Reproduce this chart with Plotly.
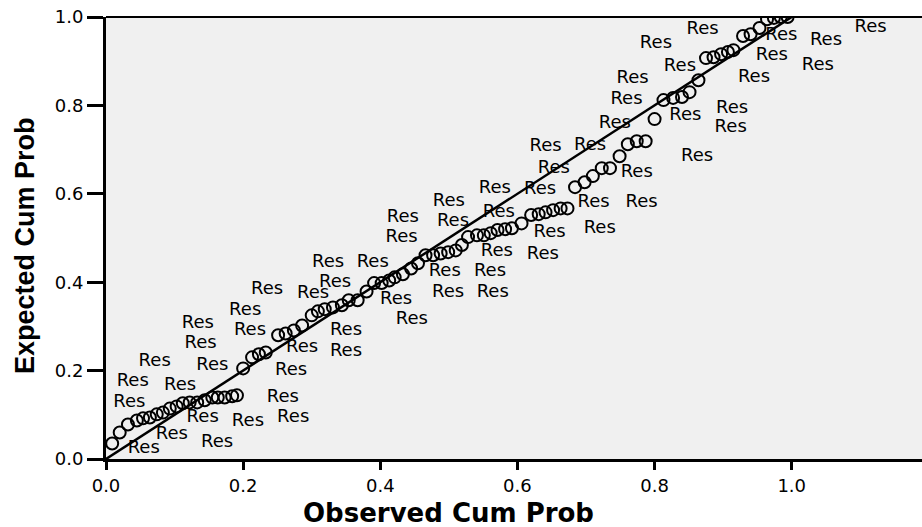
import plotly.graph_objects as go

# Observed vs expected cumulative probability (circles)
observed = [0.009, 0.020, 0.032, 0.045, 0.054, 0.064, 0.074, 0.083, 0.093, 0.103,
            0.112, 0.122, 0.133, 0.144, 0.155, 0.163, 0.173, 0.184, 0.191, 0.200,
            0.213, 0.223, 0.233, 0.251, 0.262, 0.274, 0.286, 0.300, 0.309, 0.319,
            0.331, 0.344, 0.354, 0.367, 0.380, 0.391, 0.402, 0.413, 0.421, 0.433,
            0.445, 0.455, 0.466, 0.477, 0.488, 0.499, 0.510, 0.519, 0.528, 0.541,
            0.551, 0.561, 0.571, 0.582, 0.592, 0.606, 0.620, 0.631, 0.641, 0.652,
            0.663, 0.673, 0.684, 0.698, 0.710, 0.723, 0.735, 0.749, 0.761, 0.774,
            0.787, 0.800, 0.813, 0.827, 0.840, 0.851, 0.864, 0.875, 0.886, 0.897,
            0.907, 0.915, 0.929, 0.940, 0.953, 0.964, 0.974, 0.984, 0.994]
expected = [0.035, 0.060, 0.078, 0.087, 0.092, 0.094, 0.101, 0.105, 0.114, 0.119,
            0.126, 0.128, 0.128, 0.133, 0.139, 0.139, 0.139, 0.142, 0.144, 0.205,
            0.230, 0.237, 0.241, 0.280, 0.284, 0.291, 0.302, 0.325, 0.334, 0.339,
            0.343, 0.348, 0.359, 0.359, 0.379, 0.398, 0.398, 0.404, 0.411, 0.418,
            0.431, 0.443, 0.461, 0.461, 0.465, 0.468, 0.472, 0.484, 0.502, 0.506,
            0.506, 0.511, 0.518, 0.520, 0.522, 0.533, 0.552, 0.554, 0.558, 0.563,
            0.567, 0.567, 0.615, 0.626, 0.640, 0.658, 0.658, 0.685, 0.712, 0.719,
            0.719, 0.769, 0.812, 0.817, 0.819, 0.830, 0.857, 0.907, 0.909, 0.916,
            0.921, 0.925, 0.957, 0.961, 0.975, 0.995, 0.998, 1.000, 1.000]

# Case labels ("Res") positions
label_x = [0.055, 0.096, 0.162, 0.034, 0.141, 0.207, 0.273, 0.258, 0.039, 0.108,
           0.071, 0.155, 0.270, 0.134, 0.138, 0.203, 0.210, 0.286, 0.350, 0.350,
           0.235, 0.302, 0.334, 0.324, 0.389, 0.431, 0.423, 0.446, 0.433, 0.506,
           0.500, 0.567, 0.633, 0.573, 0.494, 0.560, 0.499, 0.564, 0.570, 0.637,
           0.647, 0.720, 0.711, 0.781, 0.641, 0.706, 0.653, 0.742, 0.774, 0.759,
           0.768, 0.802, 0.870, 0.837, 0.845, 0.862, 0.913, 0.911, 0.945, 0.971,
           0.985, 1.050, 1.115, 1.038]
label_y = [0.024, 0.055, 0.037, 0.128, 0.094, 0.085, 0.094, 0.139, 0.176, 0.166,
           0.221, 0.212, 0.200, 0.307, 0.262, 0.336, 0.291, 0.253, 0.291, 0.243,
           0.384, 0.375, 0.400, 0.445, 0.445, 0.502, 0.361, 0.316, 0.547, 0.538,
           0.583, 0.613, 0.610, 0.558, 0.425, 0.425, 0.377, 0.377, 0.470, 0.463,
           0.513, 0.522, 0.581, 0.581, 0.706, 0.710, 0.658, 0.758, 0.649, 0.814,
           0.862, 0.941, 0.971, 0.887, 0.778, 0.685, 0.794, 0.749, 0.864, 0.914,
           0.959, 0.946, 0.977, 0.891]
label_text = ["Res"] * len(label_x)

ref_line = [0.0, 1.0]
tick_vals = [0.0, 0.2, 0.4, 0.6, 0.8, 1.0]
tick_text = ["0.0", "0.2", "0.4", "0.6", "0.8", "1.0"]

fig = go.Figure()
fig.add_trace(go.Scatter(x=ref_line, y=ref_line, mode="lines",
                         line=dict(color="black", width=2.5), hoverinfo="skip"))
fig.add_trace(go.Scatter(x=label_x, y=label_y, mode="text", text=label_text,
                         textposition="middle center",
                         textfont=dict(family="DejaVu Sans", size=18, color="black")))
fig.add_trace(go.Scatter(x=observed, y=expected, mode="markers",
                         marker=dict(symbol="circle-open", size=12, color="black",
                                     line=dict(width=2, color="black"))))

fig.update_layout(
    width=922, height=527,
    margin=dict(l=106, r=0, t=17, b=68, autoexpand=False),
    paper_bgcolor="white", plot_bgcolor="#f0f0f0",
    showlegend=False,
    font=dict(family="DejaVu Sans", color="black"),
)
fig.update_xaxes(range=[0, 1.19], showgrid=False, zeroline=False,
                 showline=True, linecolor="black", linewidth=3,
                 ticks="outside", ticklen=8, tickwidth=3, tickcolor="black",
                 tickvals=tick_vals, ticktext=tick_text, automargin=False,
                 tickfont=dict(family="DejaVu Sans", size=18, color="black"))
fig.update_yaxes(range=[0, 1.0], showgrid=False, zeroline=False,
                 showline=True, linecolor="black", linewidth=3,
                 ticks="outside", ticklen=16, tickwidth=3, tickcolor="black",
                 tickvals=tick_vals, ticktext=tick_text, automargin=False,
                 tickfont=dict(family="DejaVu Sans", size=18, color="black"))

# top border of the plot frame
fig.add_shape(type="line", xref="paper", yref="paper", x0=0, x1=1, y0=1, y1=1,
              line=dict(color="black", width=2))

fig.add_annotation(text="<b>Observed Cum Prob</b>", xref="x", yref="paper",
                   x=0.5, y=-0.123, showarrow=False, xanchor="center", yanchor="middle",
                   font=dict(family="DejaVu Sans", size=26, color="black"))
fig.add_annotation(text="<b>Expected Cum Prob</b>", xref="paper", yref="paper",
                   x=-0.0993, y=0.484, showarrow=False, textangle=-90,
                   xanchor="center", yanchor="middle",
                   font=dict(family="Liberation Sans", size=27, color="black"))

fig.write_html("out.html", config={"displayModeBar": False},
               post_script="document.body.style.margin='0px';")
